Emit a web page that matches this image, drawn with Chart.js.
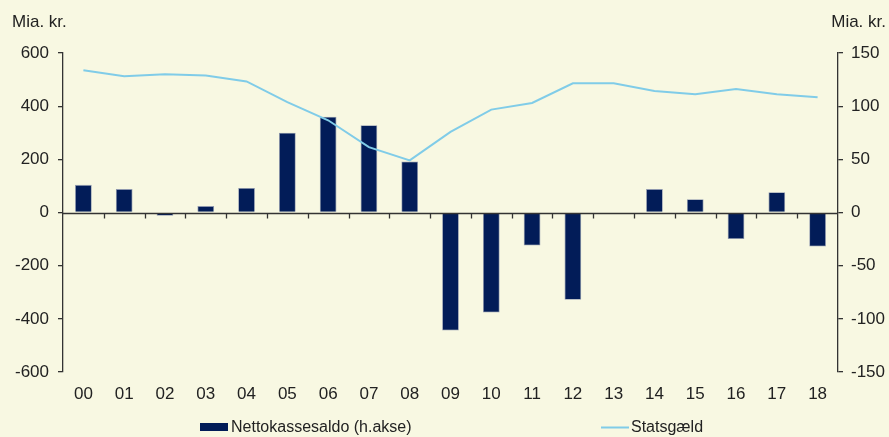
<!DOCTYPE html>
<html>
<head>
<meta charset="utf-8">
<script src="https://cdn.jsdelivr.net/npm/chart.js@4/dist/chart.umd.min.js"></script>
<style>
html,body{margin:0;padding:0;background:#F8F8E2;}
#wrap{position:relative;width:889px;height:437px;}
</style>
</head>
<body>
<div id="wrap"><canvas id="c" width="889" height="437"></canvas></div>
<script>
const categories = ['00','01','02','03','04','05','06','07','08','09','10','11','12','13','14','15','16','17','18'];
// Nettokassesaldo (right axis, mia. kr.)
const nettokassesaldo = [26, 22, -3, 6, 23, 75, 90, 82, 48, -111, -94, -31, -82, -1, 22, 12.5, -25, 19, -32];
// Statsgæld (left axis, mia. kr.)
const statsgaeld = [535, 513, 520, 515, 493, 415, 347, 246, 196, 303, 387, 412, 486, 486, 457, 445, 465, 445, 434];
const leftTicks = [-600, -400, -200, 0, 200, 400, 600];
const rightTicks = [-150, -100, -50, 0, 50, 100, 150];
const unitLabel = 'Mia. kr.';
const legendBar = 'Nettokassesaldo (h.akse)';
const legendLine = 'Statsgæld';

const BAR = '#021C58';
const LINE = '#80CCE8';
const TXT = '#222222';
const AX = '#333333';
const FONT = '"Liberation Sans", Arial, sans-serif';

const deco = {
  id: 'deco',
  beforeDraw(chart) {
    const ctx = chart.ctx;
    ctx.save();
    ctx.fillStyle = '#F8F8E2';
    ctx.fillRect(0, 0, chart.width, chart.height);
    ctx.restore();
  },
  afterDatasetsDraw(chart) {
    const ctx = chart.ctx;
    const yl = chart.scales.yl;
    const ca = chart.chartArea;
    const y0 = Math.round(yl.getPixelForValue(0)) + 0.5;
    ctx.save();
    ctx.strokeStyle = AX;
    ctx.lineWidth = 1.3;
    ctx.beginPath();
    ctx.moveTo(ca.left, y0);
    ctx.lineTo(ca.right, y0);
    ctx.stroke();
    const n = categories.length;
    const step = (ca.right - ca.left) / n;
    ctx.beginPath();
    for (let i = 1; i < n; i++) {
      const xx = Math.round(ca.left + i * step) + 0.5;
      ctx.moveTo(xx, y0);
      ctx.lineTo(xx, y0 + 5);
    }
    ctx.stroke();
    ctx.restore();
  },
  afterDraw(chart) {
    const ctx = chart.ctx;
    ctx.save();
    ctx.fillStyle = TXT;
    ctx.font = '17px ' + FONT;
    ctx.textBaseline = 'middle';
    ctx.textAlign = 'left';
    ctx.fillText(unitLabel, 12, 22);
    ctx.textAlign = 'right';
    ctx.fillText(unitLabel, 886, 22);
    const ly = 427;
    ctx.fillStyle = BAR;
    ctx.fillRect(200, ly - 4, 28, 8);
    ctx.fillStyle = TXT;
    ctx.textAlign = 'left';
    ctx.font = '16px ' + FONT;
    ctx.fillText(legendBar, 231, ly + 1);
    ctx.strokeStyle = LINE;
    ctx.lineWidth = 2;
    ctx.beginPath();
    ctx.moveTo(601, ly + 0.5);
    ctx.lineTo(629, ly + 0.5);
    ctx.stroke();
    ctx.fillText(legendLine, 631, ly + 1);
    ctx.restore();
  }
};

new Chart(document.getElementById('c'), {
  data: {
    labels: categories,
    datasets: [
      {
        type: 'line',
        label: legendLine,
        data: statsgaeld,
        yAxisID: 'yl',
        borderColor: LINE,
        borderWidth: 2,
        pointRadius: 0,
        tension: 0,
        order: 0
      },
      {
        type: 'bar',
        label: legendBar,
        data: nettokassesaldo,
        yAxisID: 'yr',
        backgroundColor: BAR,
        borderColor: '#8E97AE',
        borderWidth: 0.8,
        categoryPercentage: 1,
        barPercentage: 0.41,
        order: 1
      }
    ]
  },
  options: {
    responsive: false,
    animation: false,
    events: [],
    layout: { padding: { top: 53, left: 0, right: 0, bottom: 0 } },
    plugins: { legend: { display: false }, tooltip: { enabled: false }, title: { display: false } },
    scales: {
      x: {
        type: 'category',
        offset: true,
        grid: { display: false, drawTicks: false },
        border: { display: false },
        ticks: { color: TXT, font: { family: FONT, size: 17 }, padding: 12, maxRotation: 0, autoSkip: false },
        afterFit(s) { s.height = 65; }
      },
      yl: {
        position: 'left',
        min: -600, max: 600,
        afterBuildTicks(s) { s.ticks = leftTicks.map(v => ({ value: v })); },
        grid: { drawOnChartArea: false, drawTicks: true, tickLength: 5, color: AX, lineWidth: 1.3 },
        border: { display: true, color: AX, width: 1.3 },
        ticks: { color: TXT, font: { family: FONT, size: 17 }, padding: 9 },
        afterFit(s) { s.width = 63; }
      },
      yr: {
        position: 'right',
        min: -150, max: 150,
        afterBuildTicks(s) { s.ticks = rightTicks.map(v => ({ value: v })); },
        grid: { drawOnChartArea: false, drawTicks: true, tickLength: 5, color: AX, lineWidth: 1.3 },
        border: { display: true, color: AX, width: 1.3 },
        ticks: { color: TXT, font: { family: FONT, size: 17 }, padding: 8 },
        afterFit(s) { s.width = 51; }
      }
    }
  },
  plugins: [deco]
});
</script>
</body>
</html>
